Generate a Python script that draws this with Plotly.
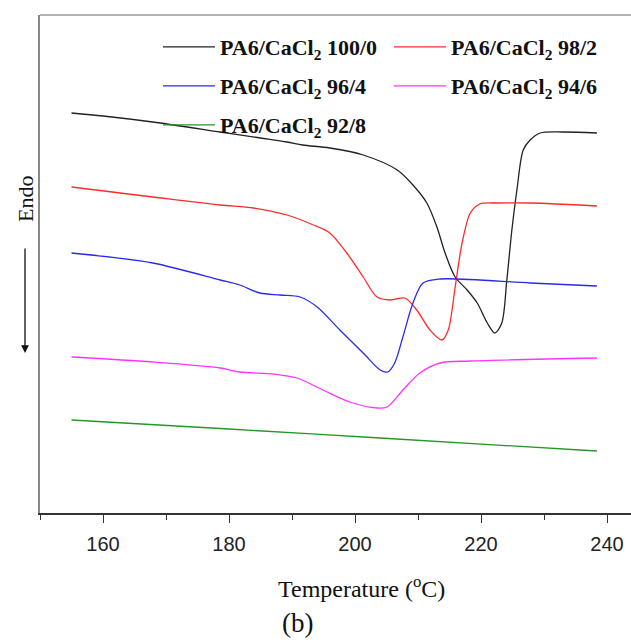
import plotly.graph_objects as go

# Temperature (°C) and heat flow (a.u.)
T_100_0 = [155, 160, 167.9, 178.6, 185, 189.2, 191.7, 196.0, 201.3, 206.7, 209.2, 211.4, 213.0,
           214.3, 215.9, 217.8, 219.4, 221.0, 222.2, 223.3, 224.1, 224.9, 225.7, 226.7, 227.8,
           229.4, 233, 238.4]
H_100_0 = [40.0, 39.7, 39.1, 38.1, 37.5, 37.1, 36.8, 36.5, 35.8, 34.3, 32.8, 31.0, 28.6,
           26.0, 23.6, 22.3, 21.0, 19.0, 18.0, 19.0, 23.3, 28.3, 32.3, 36.3, 37.3,
           38.0, 38.1, 38.0]

T_98_2 = [155, 167.9, 178.6, 183.9, 189.2, 193.4, 196.0, 198.7, 201.3, 203.5, 205.6, 207.9,
          209.8, 211.9, 213.8, 214.8, 215.9, 217.0, 218.3, 219.8, 222.5, 227.8, 238.4]
H_98_2 = [32.6, 31.6, 30.8, 30.5, 29.8, 28.8, 28.0, 26.0, 23.6, 21.6, 21.3, 21.5,
          20.3, 18.3, 17.3, 18.3, 22.6, 27.0, 30.0, 30.9, 31.0, 31.0, 30.7]

T_96_4 = [155, 167.9, 178.6, 181.7, 184.9, 188.1, 191.3, 194.0, 197.6, 201.3, 204.0, 205.2,
          206.3, 207.6, 209.2, 210.8, 213.5, 227.8, 238.4]
H_96_4 = [26.0, 25.0, 23.3, 22.8, 22.0, 21.8, 21.6, 20.6, 18.3, 16.0, 14.3, 14.1,
          15.0, 17.6, 21.0, 23.0, 23.4, 23.0, 22.7]

T_94_6 = [155, 167.9, 178.6, 181.7, 187.0, 190.8, 194.9, 199.2, 203.5, 205.1, 207.6, 210.3,
          213.5, 218.3, 238.4]
H_94_6 = [15.6, 15.1, 14.5, 14.1, 13.9, 13.5, 12.3, 11.1, 10.5, 10.6, 12.3, 14.0,
          15.0, 15.2, 15.5]

T_92_8 = [155, 180, 204, 238.4]
H_92_8 = [9.3, 8.4, 7.5, 6.2]

names = ["PA6/CaCl<sub>2</sub> 100/0", "PA6/CaCl<sub>2</sub> 98/2", "PA6/CaCl<sub>2</sub> 96/4",
         "PA6/CaCl<sub>2</sub> 94/6", "PA6/CaCl<sub>2</sub> 92/8"]
colors = ["#222222", "#ff2a2a", "#2a2aee", "#ff33ff", "#229922"]
legend_ids = ["legend", "legend", "legend2", "legend2", "legend3"]
series = [(T_100_0, H_100_0), (T_98_2, H_98_2), (T_96_4, H_96_4), (T_94_6, H_94_6), (T_92_8, H_92_8)]

x_ticks = [160, 180, 200, 220, 240]
x_minor = [150, 170, 190, 210, 230]

fig = go.Figure()
for (t, h), n, c, lg in zip(series, names, colors, legend_ids):
    fig.add_trace(go.Scatter(x=t, y=h, mode="lines", name=n, legend=lg,
                             line=dict(color=c, width=1.3, shape="spline", smoothing=0.85)))

W, H = 631, 640
ml, mt, mb = 40, 15, 127
pw = W - ml
ph = H - mt - mb
bottom = mt + ph


def px_x(p):
    return (p - ml) / pw


def px_y(p):
    return (bottom - p) / ph


leg_common = dict(orientation="h", xanchor="left", yanchor="middle",
                  entrywidth=164, entrywidthmode="pixels", itemwidth=52,
                  font=dict(family="Liberation Serif", size=22, color="#111", weight="bold"),
                  bgcolor="rgba(0,0,0,0)", borderwidth=0)

fig.update_layout(
    width=W, height=H,
    margin=dict(l=ml, r=0, t=mt, b=mb),
    paper_bgcolor="white", plot_bgcolor="white",
    showlegend=True,
    legend=dict(x=px_x(158), y=px_y(47), **leg_common),
    legend2=dict(x=px_x(158), y=px_y(86), **leg_common),
    legend3=dict(x=px_x(158), y=px_y(125), **leg_common),
    xaxis=dict(range=[150, 150 + pw / 6.3], tickvals=x_ticks, ticks="outside", ticklen=8,
               tickwidth=1.2, tickcolor="#333", showline=True, linecolor="#333", linewidth=1.5,
               showgrid=False, zeroline=False, ticklabelstandoff=4,
               tickfont=dict(family="Liberation Sans", size=20, color="#222"),
               minor=dict(tickvals=x_minor, ticks="outside", ticklen=5,
                          tickcolor="#333", tickwidth=1.2)),
    yaxis=dict(range=[0, ph / 10], showticklabels=False, ticks="", showline=True,
               linecolor="#888", linewidth=1.5, showgrid=False, zeroline=False),
    shapes=[dict(type="line", xref="paper", yref="paper", x0=0, x1=1, y0=1, y1=1,
                 line=dict(color="#999", width=1.5))],
    annotations=[
        dict(text="Endo", xref="paper", yref="paper", x=px_x(25), y=px_y(199),
             xanchor="center", yanchor="middle",
             textangle=-90, showarrow=False, font=dict(family="Liberation Serif", size=22, color="#111")),
        dict(text="", xref="paper", yref="paper", x=px_x(25), y=px_y(353),
             showarrow=True, ax=0, ay=-106, arrowhead=2, arrowsize=1.2, arrowwidth=1.3, arrowcolor="#111"),
        dict(text="Temperature (<sup>o</sup>C)", xref="paper", yref="paper", x=px_x(361),
             y=px_y(587), xanchor="center", yanchor="middle", showarrow=False,
             font=dict(family="Liberation Serif", size=24, color="#111")),
        dict(text="(b)", xref="paper", yref="paper", x=px_x(297), y=px_y(623),
             xanchor="center", yanchor="middle", showarrow=False,
             font=dict(family="Liberation Serif", size=27, color="#111")),
    ],
)

fig.write_html("out.html")
